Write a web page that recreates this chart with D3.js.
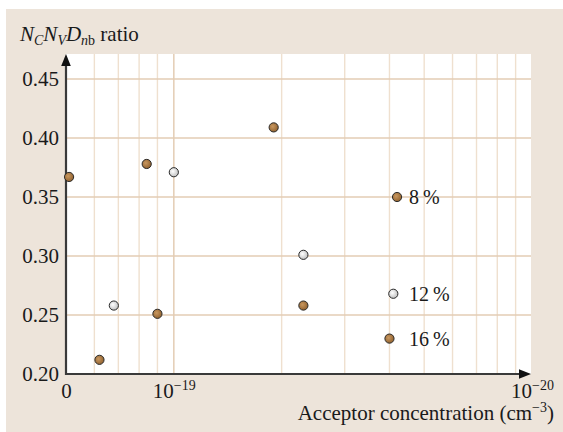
<!DOCTYPE html>
<html>
<head>
<meta charset="utf-8">
<script src="https://cdn.jsdelivr.net/npm/d3@7"></script>
<style>
  html, body { margin: 0; padding: 0; background: #fff; }
  svg { display: block; }
  text { font-family: "Liberation Serif", "Times New Roman", serif; fill: #1a1a1a; }
</style>
</head>
<body>
<div id="chart"></div>
<script>
// acceptor concentration, in units of 1e19 cm^-3 (axis is log)
const concentration = [0.51, 0.62, 0.68, 0.84, 0.90, 1.0, 1.9, 2.3, 2.3, 4.2, 4.1, 4.0];
const ratio = [0.367, 0.212, 0.258, 0.378, 0.251, 0.371, 0.409, 0.301, 0.258, 0.350, 0.268, 0.230];
const sample = ['brown', 'brown', 'grey', 'brown', 'brown', 'grey', 'brown', 'grey', 'brown', 'brown', 'grey', 'brown'];
const pointLabels = ['', '', '', '', '', '', '', '', '', '8 %', '12 %', '16 %'];

const yTicks = [0.20, 0.25, 0.30, 0.35, 0.40, 0.45];
const xTicks = [0.5, 1, 10];
const xTickBase = ['0', '10', '10'];
const xTickExp = ['', '\u221219', '\u221220'];
const xMinor = [0.6, 0.7, 0.8, 0.9, 2, 3, 4, 5, 6, 7, 8, 9];

const width = 563, height = 432;
const margin = { left: 66, right: 32, top: 54, bottom: 58 };

const svg = d3.select('#chart').append('svg')
  .attr('width', width)
  .attr('height', height);

const defs = svg.append('defs');
const grad = (id, inner, outer) => {
  const g = defs.append('radialGradient').attr('id', id)
    .attr('cx', '40%').attr('cy', '40%').attr('r', '65%');
  g.append('stop').attr('offset', '0%').attr('stop-color', inner);
  g.append('stop').attr('offset', '100%').attr('stop-color', outer);
};
grad('dot-brown', '#c99860', '#8e5f2c');
grad('dot-grey', '#ffffff', '#bdbdbd');

// beige panel
svg.append('rect')
  .attr('x', 6).attr('y', 9)
  .attr('width', width - 6).attr('height', height - 9)
  .attr('fill', '#ede4da');

const x = d3.scaleLog()
  .domain([0.5, 10])
  .range([margin.left, width - margin.right + 1]);
const y = d3.scaleLinear()
  .domain([0.2, 0.4712])
  .range([height - margin.bottom, margin.top]);

const plotRight = width - margin.right;

// plot area
svg.append('rect')
  .attr('x', margin.left).attr('y', margin.top)
  .attr('width', plotRight - margin.left)
  .attr('height', y(0.2) - margin.top)
  .attr('fill', '#fff');

const grid = svg.append('g').attr('class', 'grid');
grid.selectAll('line.minor')
  .data(xMinor)
  .join('line')
  .attr('class', 'minor')
  .attr('x1', d => x(d)).attr('x2', d => x(d))
  .attr('y1', margin.top).attr('y2', y(0.2))
  .attr('stroke', '#efe0cf')
  .attr('stroke-width', 1.4);
grid.append('line')
  .attr('x1', x(1)).attr('x2', x(1))
  .attr('y1', margin.top).attr('y2', y(0.2))
  .attr('stroke', '#e3cdb4')
  .attr('stroke-width', 1.5);
grid.selectAll('line.h')
  .data(yTicks.slice(1))
  .join('line')
  .attr('class', 'h')
  .attr('x1', margin.left).attr('x2', plotRight)
  .attr('y1', d => y(d)).attr('y2', d => y(d))
  .attr('stroke', '#e3cdb4')
  .attr('stroke-width', 1.5);

// y tick labels
const yAxis = svg.append('g')
  .attr('transform', `translate(${margin.left},0)`)
  .call(d3.axisLeft(y).tickValues(yTicks).tickSize(0).tickPadding(7)
    .tickFormat(d3.format('.2f')));
yAxis.select('.domain').remove();
yAxis.selectAll('text')
  .attr('font-size', 21)
  .attr('font-family', '"Liberation Serif", "Times New Roman", serif')
  .attr('fill', '#1a1a1a');

// x tick labels
const xAxis = svg.append('g')
  .attr('transform', `translate(0,${y(0.2)})`)
  .call(d3.axisBottom(x).tickValues(xTicks).tickSize(0).tickFormat(() => ''));
xAxis.select('.domain').remove();
xAxis.selectAll('.tick text').remove();
xAxis.selectAll('.tick').append('text')
  .attr('y', 24)
  .attr('text-anchor', 'middle')
  .attr('font-size', 21)
  .each(function (d, i) {
    const t = d3.select(this);
    t.append('tspan').text(xTickBase[i]);
    if (xTickExp[i]) {
      t.append('tspan').attr('font-size', 14).attr('dy', -8).text(xTickExp[i]);
    }
  });

// axes with arrowheads
const axisColor = '#3a3a3a';
svg.append('line')
  .attr('x1', margin.left).attr('x2', margin.left)
  .attr('y1', y(0.2) + 1).attr('y2', margin.top + 10)
  .attr('stroke', axisColor).attr('stroke-width', 2.2);
svg.append('path')
  .attr('d', `M${margin.left},${margin.top} l-4.8,12 h9.6 Z`)
  .attr('fill', '#111');
svg.append('line')
  .attr('x1', margin.left - 1).attr('x2', plotRight - 10)
  .attr('y1', y(0.2)).attr('y2', y(0.2))
  .attr('stroke', axisColor).attr('stroke-width', 2.2);
svg.append('path')
  .attr('d', `M${plotRight},${y(0.2)} l-12,-4.8 v9.6 Z`)
  .attr('fill', '#111');

// points
const pts = d3.range(concentration.length).map(i => ({
  c: concentration[i], r: ratio[i], s: sample[i], label: pointLabels[i]
}));
svg.append('g').selectAll('circle')
  .data(pts)
  .join('circle')
  .attr('cx', d => x(d.c))
  .attr('cy', d => y(d.r))
  .attr('r', 4.6)
  .attr('fill', d => d.s === 'brown' ? 'url(#dot-brown)' : 'url(#dot-grey)')
  .attr('stroke', '#2a2a2a')
  .attr('stroke-width', 1);

const labelled = pts.filter(d => d.label);
const labelX = d3.max(labelled, d => x(d.c)) + 12;
svg.append('g').selectAll('text')
  .data(labelled)
  .join('text')
  .attr('x', labelX)
  .attr('y', d => y(d.r) + 7)
  .attr('font-size', 20)
  .text(d => d.label.replace(' ', '\u2009'));

// titles
const title = svg.append('text')
  .attr('x', 20).attr('y', 41)
  .attr('font-size', 21);
title.append('tspan').attr('font-style', 'italic').text('N');
title.append('tspan').attr('font-style', 'italic').attr('font-size', 14).attr('dy', 4).text('C');
title.append('tspan').attr('font-style', 'italic').attr('dy', -4).text('N');
title.append('tspan').attr('font-style', 'italic').attr('font-size', 14).attr('dy', 4).text('V');
title.append('tspan').attr('font-style', 'italic').attr('dy', -4).text('D');
title.append('tspan').attr('font-style', 'italic').attr('font-size', 14).attr('dy', 4).text('n');
title.append('tspan').attr('font-size', 14).text('b');
title.append('tspan').attr('dy', -4).text(' ratio');

const xLabel = svg.append('text')
  .attr('x', 554).attr('y', 420)
  .attr('text-anchor', 'end')
  .attr('font-size', 21);
xLabel.append('tspan').text('Acceptor concentration (cm');
xLabel.append('tspan').attr('font-size', 14).attr('dy', -8).text('\u22123');
xLabel.append('tspan').attr('dy', 8).text(')');
</script>
</body>
</html>
